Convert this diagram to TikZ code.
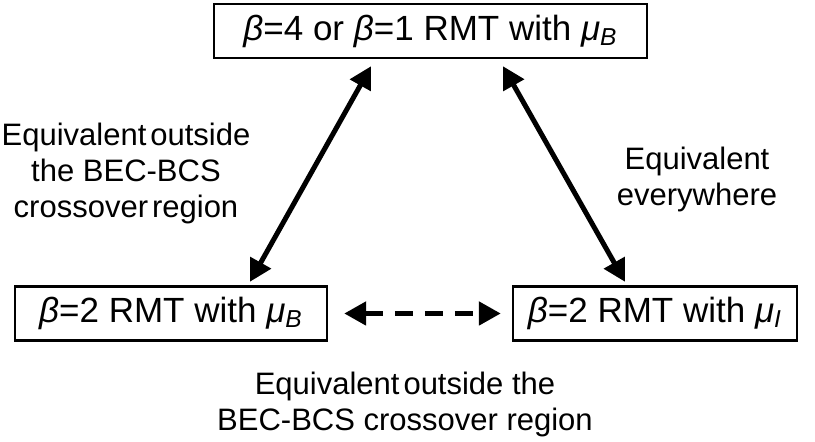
\documentclass[tikz,border=0pt]{standalone}
\usepackage{fontspec}
\setmainfont{Liberation Sans}
\usetikzlibrary{arrows.meta}
\newcommand{\bt}{\textit{β}}
\newcommand{\mub}[1]{\textit{μ\textsubscript{#1}}}
\tikzset{
  rmtbox/.style={draw, line width=1.2pt, minimum height=27pt, inner sep=0pt, font=\fontsize{17.5}{21}\selectfont},
  eqlabel/.style={align=center, font=\fontsize{15.5}{18}\selectfont},
  dbl/.style={line width=2.5pt, {Triangle[length=11pt,width=11.5pt]}-{Triangle[length=11pt,width=11.5pt]}}
}
\begin{document}
\begin{tikzpicture}[x=0.5pt,y=-0.5pt]
  \useasboundingbox (0,0) rectangle (815,442);
  % the three random matrix models
  \node[rmtbox, minimum width=216.5pt] (top) at (430.5,31) {\bt=4 or \bt=1 RMT with \mub{B}};
  \node[rmtbox, minimum width=156pt] (bl) at (171,313.5) {\bt=2 RMT with \mub{B}};
  \node[rmtbox, minimum width=142pt] (br) at (655,313.5) {\bt=2 RMT with \mub{I}};
  % equivalences
  \draw[dbl, shorten <=4pt, shorten >=2pt] ([xshift=-27.75pt]top.south) -- ([xshift=38.5pt]bl.north);
  \draw[dbl, shorten <=4pt, shorten >=2pt] ([xshift=34.25pt]top.south) -- ([xshift=-14pt]br.north);
  \draw[dbl, dash pattern=on 9pt off 6pt, shorten <=8pt, shorten >=5.5pt] (bl.east) -- (br.west);
  \node[eqlabel] (lt) at (126,173) {Equivalent\hspace{2pt}outside\\the BEC-BCS\\crossover\hspace{2pt}region};
  \node[eqlabel] (rt) at (697,179) {Equivalent\\everywhere};
  \node[eqlabel] (bt) at (405,404) {Equivalent\hspace{2pt}outside the\\BEC-BCS crossover region};
\end{tikzpicture}
\end{document}
